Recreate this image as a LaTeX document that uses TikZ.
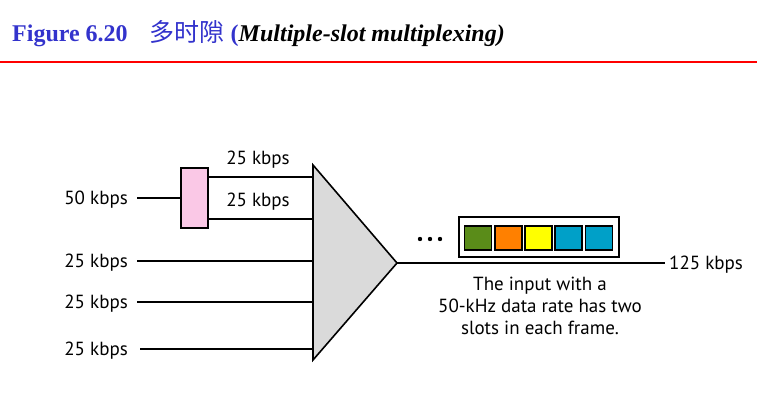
\documentclass[tikz,border=0pt]{standalone}
\usepackage{fontspec}
\setmainfont{Liberation Serif}
\newfontfamily\lab{PT Sans}
\newfontfamily\cjk{Noto Sans CJK SC}
\definecolor{titleblue}{RGB}{51,51,204}
\definecolor{slotgreen}{RGB}{90,140,25}
\definecolor{slotorange}{RGB}{255,128,0}
\definecolor{slotyellow}{RGB}{255,255,0}
\definecolor{slotblue}{RGB}{0,160,200}
\definecolor{pinkbox}{RGB}{250,200,230}
\definecolor{muxgray}{RGB}{218,218,218}
\begin{document}
\begin{tikzpicture}[x=1pt,y=-1pt,
  lbl/.style={font=\lab\fontsize{19}{22}\selectfont, inner sep=0pt},
  wire/.style={line width=1.6pt},
  slot/.style={draw, line width=1.2pt, minimum width=27pt, minimum height=24pt, inner sep=0pt}]
\useasboundingbox (0,0) rectangle (757,406);
% title
\node[anchor=base west, inner sep=0pt, font=\fontsize{24}{28}\selectfont\bfseries] (title) at (12,42)
  {\textcolor{titleblue}{Figure 6.20\hspace{22pt}{\cjk\mdseries\fontsize{25}{28}\selectfont 多时隙} (}\textit{Multiple-slot multiplexing)}};
\draw[red, line width=1.5pt] (0,62) -- (757,62);
% mux
\coordinate (mt) at (313,165);
\coordinate (mb) at (313,360);
\coordinate (apex) at (397,263);
\draw[fill=muxgray, line width=1.6pt] (mt) -- (apex) -- (mb) -- cycle;
% splitter
\node[draw, fill=pinkbox, line width=1.4pt, minimum width=27pt, minimum height=60pt, inner sep=0pt] (split) at (194.5,198) {};
\node[lbl, anchor=east] (l50) at (128,199.5) {50 kbps};
\coordinate (s50) at (137,198);
\draw[wire] (s50) -- (split.west);
\coordinate (u1) at (313,177);
\coordinate (u2) at (313,219);
\draw[wire] (split.east |- u1) -- (u1);
\draw[wire] (split.east |- u2) -- (u2);
\node[lbl] (lu1) at (258,160) {25 kbps};
\node[lbl] (lu2) at (258,202) {25 kbps};
% other inputs
\node[lbl, anchor=east] (l3) at (128,262.5) {25 kbps};
\node[lbl, anchor=east] (l4) at (128,303.5) {25 kbps};
\node[lbl, anchor=east] (l5) at (128,350.5) {25 kbps};
\coordinate (i3) at (313,261);
\coordinate (i4) at (313,302);
\coordinate (i5) at (313,349);
\draw[wire] (137,261) -- (i3);
\draw[wire] (137,302) -- (i4);
\draw[wire] (140,349) -- (i5);
% output
\node[lbl, anchor=west] (lout) at (669,264.5) {125 kbps};
\coordinate (oend) at (665,263);
\draw[wire] (apex) -- (oend);
% frame
\node[draw, line width=1.2pt, minimum width=160pt, minimum height=40pt, inner sep=0pt] (frame) at (539,237) {};
\node[slot, fill=slotgreen] (s1) at (478,238) {};
\node[slot, fill=slotorange] (s2) at (508.5,238) {};
\node[slot, fill=slotyellow] (s3) at (538.5,238) {};
\node[slot, fill=slotblue] (s4) at (568.5,238) {};
\node[slot, fill=slotblue] (s5) at (599,238) {};
\foreach \xx in {420,430,440} \fill (\xx,239) circle (2.2pt);
\node[lbl, align=center, font=\lab\fontsize{19}{22}\selectfont] (cap) at (540,306) {The input with a\\50-kHz data rate has two\\slots in each frame.};
\end{tikzpicture}
\end{document}
